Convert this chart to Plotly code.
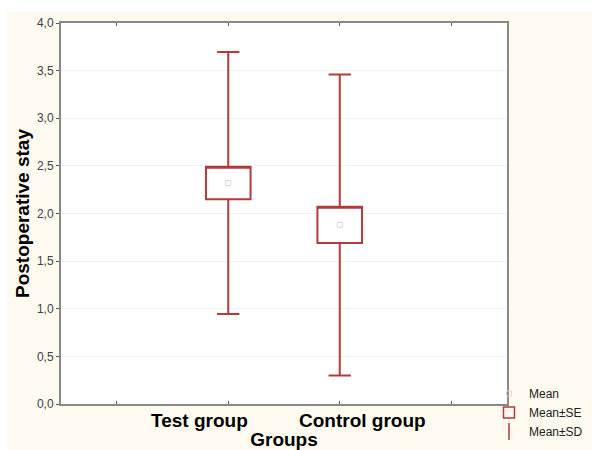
import plotly.graph_objects as go

groups = ["Test group", "Control group"]
positions = [1, 2]
label_positions = [0.74, 2.2]
means = [2.32, 1.88]
se = [0.17, 0.19]
sd = [1.375, 1.58]
y_ticks = [0.0, 0.5, 1.0, 1.5, 2.0, 2.5, 3.0, 3.5, 4.0]

RED = "#B23A3D"
CREAM = "#FFFAEF"
q1 = [m - s for m, s in zip(means, se)]
q3 = [m + s for m, s in zip(means, se)]
lo = [m - d for m, d in zip(means, sd)]
hi = [m + d for m, d in zip(means, sd)]

fig = go.Figure()
fig.add_trace(go.Box(
    x=positions, q1=q1, median=q3, q3=q3, lowerfence=lo, upperfence=hi,
    width=0.4, whiskerwidth=0.5, fillcolor="white",
    line=dict(color=RED, width=2), boxpoints=False,
    showlegend=False, hoverinfo="skip"))
fig.add_trace(go.Scatter(
    x=positions, y=means, mode="markers", name="Mean",
    marker=dict(symbol="square-open", size=5, color="#EBCFD2", line=dict(width=1))))
fig.add_trace(go.Scatter(
    x=[None], y=[None], mode="markers", name="Mean±SE",
    marker=dict(symbol="square-open", size=11, color=RED, line=dict(width=1.5))))
fig.add_trace(go.Scatter(
    x=[None], y=[None], mode="markers", name="Mean±SD",
    marker=dict(symbol="line-ns-open", size=12, color=RED, line=dict(width=1.5))))

for g, xp in zip(groups, label_positions):
    fig.add_annotation(x=xp, y=0, xref="x", yref="paper", yshift=-4, text="<b>" + g + "</b>",
                       showarrow=False, yanchor="top",
                       font=dict(size=19, color="black", family="Arial"))

# white outer strips at top and left
fig.add_shape(type="rect", xref="paper", yref="paper", layer="below",
              x0=-0.3, x1=1.3, y0=(404 - 12) / 381, y1=1.2,
              fillcolor="white", line=dict(width=0))
fig.add_shape(type="rect", xref="paper", yref="paper", layer="below",
              x0=-0.3, x1=(7 - 61) / 446, y0=-0.3, y1=1.2,
              fillcolor="white", line=dict(width=0))

fig.update_layout(
    width=592, height=450,
    margin=dict(l=61, r=85, t=23, b=46, autoexpand=False),
    paper_bgcolor=CREAM, plot_bgcolor="white",
    separators=",.",
    font=dict(family="Arial", size=11, color="#333333"),
    showlegend=True,
    legend=dict(xref="container", yref="container", x=0.826, y=1 - 379 / 450,
                xanchor="left", yanchor="top",
                bgcolor="rgba(0,0,0,0)", font=dict(size=12, color="#222"),
                itemwidth=30, tracegroupgap=0),
    xaxis=dict(range=[-0.5, 3.5], tickvals=[0, 1, 2, 3], ticktext=["", "", "", ""],
               ticks="inside", ticklen=3, tickcolor="#555", mirror="ticks",
               showline=True, linecolor="#888888", linewidth=2, showgrid=False,
               zeroline=False, automargin=False,
               title=dict(text="<b>Groups</b>", font=dict(size=19, color="black"), standoff=25)),
    yaxis=dict(range=[0, 4], tickvals=y_ticks, tickformat=".1f",
               ticks="outside", ticklen=3, tickcolor="#555", mirror=True,
               showline=True, linecolor="#888888", linewidth=2,
               showgrid=True, gridcolor="#F3F3F3", zeroline=False, automargin=False,
               tickprefix="<b>", ticksuffix="</b>",
               tickfont=dict(size=12, color="#404040", family="Arial"),
               title=dict(text="<b>Postoperative stay</b>", font=dict(size=19, color="black"), standoff=2)),
)

fig.write_html("out.html", config={"displayModeBar": False},
               post_script="document.body.style.margin='0';")
